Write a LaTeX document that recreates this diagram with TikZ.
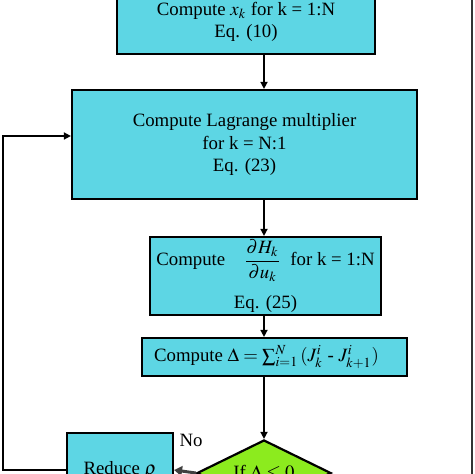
\documentclass[tikz,border=0pt]{standalone}
\usepackage{mathptmx}
\usepackage{fontspec}
\setmainfont{Liberation Serif}
\usetikzlibrary{shapes.geometric,arrows.meta}
\definecolor{boxcyan}{RGB}{93,214,228}
\definecolor{decgreen}{RGB}{140,235,30}

\begin{document}
\begin{tikzpicture}[x=0.5pt,y=-0.5pt,
    blk/.style={draw,line width=1.1pt,fill=boxcyan,align=center,inner sep=0pt},
    ln/.style={line width=0.8pt,-{Triangle[length=3.5pt,width=3.5pt]}},
    font=\fontsize{9.4}{11.3}\selectfont]
    \useasboundingbox (0,0) rectangle (474,474);
    \node[blk,minimum width=129pt,minimum height=32pt] (xk) at (246,22) {Compute $x_k$ for k = 1:N\\Eq. (10)};
    \node[blk,minimum width=172.5pt,minimum height=54.5pt] (lag) at (244.5,144.5) {Compute Lagrange multiplier\\for k = N:1\\Eq. (23)};
    \node[blk,minimum width=115.5pt,minimum height=39pt] (dh) at (265.5,276) {Compute\quad$\displaystyle\frac{\partial H_k}{\partial u_k}$\ \ for k = 1:N\\[6pt]Eq. (25)};
    \node[blk,minimum width=132.5pt,minimum height=19pt] (dl) at (274.5,357) {Compute $\Delta = \sum_{i=1}^{N}\,(J_k^i$ - $J_{k+1}^i)$\hspace*{8pt}};
    \node[draw,diamond,aspect=2,fill=decgreen,line width=1.1pt,minimum width=67pt,minimum height=33pt,inner sep=0pt] (cond) at (264,473) {If $\Delta \le 0$};
    \node[blk,minimum width=53pt,minimum height=37pt] (red) at (120,470) {Reduce $\rho$};
    \node (no) at (191,440) {No};
    \draw[ln] (xk.south -| cond.north) -- (lag.north -| cond.north);
    \draw[ln] (lag.south -| cond.north) -- (dh.north -| cond.north);
    \draw[ln] (dh.south -| cond.north) -- (dl.north -| cond.north);
    \draw[ln] (dl.south -| cond.north) -- (cond.north);
    \draw[line width=1.5pt,black!75,-{Triangle[length=4pt,width=5pt]}] (cond.west) -- (red.east);
    \draw[ln] (red.west) -- (3,470) |- (lag.west |- 0,136);
    \draw[line width=0.8pt,black!80] (472,0) -- (472,474);
\end{tikzpicture}
\end{document}
